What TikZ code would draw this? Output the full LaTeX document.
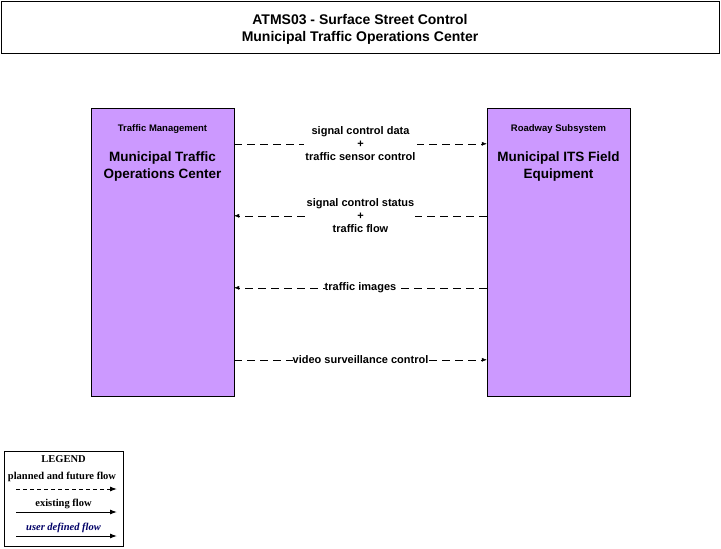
\documentclass[tikz,border=0pt]{standalone}
\usepackage{fontspec}
\setmainfont{Liberation Serif}
\newfontfamily\arialfont{Liberation Sans}
\usepackage{xcolor}
\usetikzlibrary{calc, positioning, arrows.meta}

\definecolor{subsyscolor}{HTML}{CC99FF}

\tikzset{
	subsystem/.style = {draw, fill = subsyscolor, minimum width = 143pt, minimum height = 288pt, inner sep = 0pt},
	subsystype/.style = {font = \arialfont\bfseries\fontsize{9.5}{11}\selectfont, inner sep = 0pt},
	subsysname/.style = {font = \arialfont\bfseries\fontsize{13.5}{17}\selectfont, align = center, inner sep = 0pt},
	flowlabel/.style = {font = \arialfont\bfseries\fontsize{11}{13}\selectfont, align = center, fill = white, inner sep = 1pt},
	planned/.style = {dash pattern = on 8pt off 5pt, -{Latex[length = 5pt, width = 4pt]}},
	legendtext/.style = {font = \bfseries\fontsize{10.5}{12}\selectfont, inner sep = 0pt},
	legendarrow/.style = {line width = 1pt, -{Latex[length = 7pt, width = 5pt]}}
}

\begin{document}
\begin{tikzpicture}[x = 1pt, y = -1pt]
	\useasboundingbox (0,0) rectangle (721,549);
	
	% title
	\draw (1,1) rectangle (719,53);
	\node [align = center, font = \arialfont\bfseries\fontsize{14}{17}\selectfont] (title) at (360,29) {ATMS03 - Surface Street Control\\Municipal Traffic Operations Center};
	
	% subsystems
	\node [subsystem] (tmc) at (162.5,252) {};
	\node [subsystype, below = 17pt of tmc.north] (tmc type) {Traffic Management};
	\node [subsysname, below = 17pt of tmc type] (tmc name) {Municipal Traffic\\Operations Center};
	
	\node [subsystem] (field) at (558.5,252) {};
	\node [subsystype, below = 17pt of field.north] (field type) {Roadway Subsystem};
	\node [subsysname, below = 17pt of field type] (field name) {Municipal ITS Field\\Equipment};
	
	% flows
	\draw [planned] ($ (tmc.north east) + (0,36) $) -- ($ (field.north west) + (0,36) $) node [midway, flowlabel] {signal control data\\+\\traffic sensor control};
	\draw [planned] ($ (field.north west) + (0,108) $) -- ($ (tmc.north east) + (0,108) $) node [midway, flowlabel] {signal control status\\+\\traffic flow};
	\draw [planned] ($ (field.north west) + (0,180) $) -- ($ (tmc.north east) + (0,180) $) node [midway, flowlabel, inner sep = 0pt] {traffic images};
	\draw [planned] ($ (tmc.north east) + (0,252) $) -- ($ (field.north west) + (0,252) $) node [midway, flowlabel, inner sep = 0pt] {video surveillance control};
	
	% legend
	\draw [line width = 0.8pt] (4,451) rectangle (123,546);
	\node [legendtext] (legend title) at (63.5,459) {LEGEND};
	\node [legendtext] (planned text) at (62,477) {planned and future flow};
	\coordinate (planned start) at (16,489);
	\coordinate (planned end) at (117,489);
	\draw [legendarrow, dash pattern = on 4pt off 3pt] (planned start) -- (planned end);
	\node [legendtext] (existing text) at (63.5,504) {existing flow};
	\coordinate (existing start) at (16,512);
	\coordinate (existing end) at (117,512);
	\draw [legendarrow] (existing start) -- (existing end);
	\node [legendtext, font = \bfseries\itshape\fontsize{10.5}{12}\selectfont, text = blue!40!black] (user text) at (63.5,528) {user defined flow};
	\coordinate (user start) at (16,536);
	\coordinate (user end) at (117,536);
	\draw [legendarrow] (user start) -- (user end);
\end{tikzpicture}
\end{document}
